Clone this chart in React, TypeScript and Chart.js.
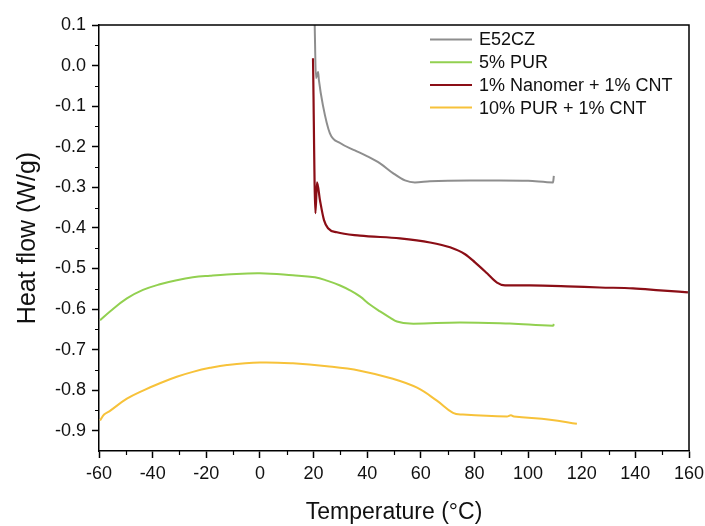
import React, { useEffect, useRef } from "react";
import { Chart, registerables } from "chart.js";

Chart.register(...registerables);

// ---- Data ----
const seriesLabels = ["E52CZ", "5% PUR", "1% Nanomer + 1% CNT", "10% PUR + 1% CNT"];

const e52czT = [20.4, 20.9, 21.7, 22.0, 23.5, 26.1, 29.9, 35.4, 39.9, 44.8, 49.6, 54.1, 57.8, 63.4, 78.3, 89.5, 100.0, 109.3, 109.6];
const e52czV = [0.11, -0.031, -0.016, -0.036, -0.098, -0.167, -0.191, -0.209, -0.223, -0.241, -0.265, -0.283, -0.288, -0.285, -0.283, -0.283, -0.284, -0.288, -0.272];

const pur5T = [-59.6, -55.9, -49.6, -43.6, -37.3, -31.0, -25.0, -18.6, -12.3, 0.0, 12.3, 20.5, 25.0, 29.9, 33.6, 37.3, 41.0, 44.8, 48.5, 51.1, 55.9, 74.6, 93.2, 109.3, 109.6];
const pur5V = [-0.628, -0.606, -0.574, -0.553, -0.539, -0.529, -0.522, -0.518, -0.515, -0.512, -0.517, -0.522, -0.530, -0.542, -0.554, -0.569, -0.589, -0.606, -0.621, -0.631, -0.636, -0.633, -0.636, -0.641, -0.637];

const nanoT = [19.8, 20.7, 21.3, 22.4, 23.9, 25.4, 28.7, 37.3, 52.2, 63.4, 70.9, 76.5, 80.2, 84.7, 88.4, 91.4, 100.7, 114.5, 126.8, 139.1, 149.2, 159.6];
const nanoV = [0.018, -0.364, -0.288, -0.332, -0.381, -0.401, -0.411, -0.419, -0.426, -0.436, -0.448, -0.465, -0.485, -0.512, -0.535, -0.542, -0.542, -0.544, -0.547, -0.549, -0.554, -0.559];

const pur10T = [-59.6, -58.1, -55.9, -49.6, -43.6, -37.3, -31.0, -25.0, -18.6, -12.3, 0.0, 12.3, 25.0, 37.3, 49.6, 58.6, 66.0, 72.0, 75.7, 92.1, 93.6, 94.7, 108.2, 118.2];
const pur10V = [-0.875, -0.860, -0.851, -0.821, -0.801, -0.783, -0.767, -0.755, -0.745, -0.738, -0.732, -0.734, -0.741, -0.752, -0.772, -0.794, -0.826, -0.856, -0.860, -0.865, -0.862, -0.865, -0.873, -0.883];

const xTickValues = [-60, -40, -20, 0, 20, 40, 60, 80, 100, 120, 140, 160];
const yTickValues = [0.1, 0.0, -0.1, -0.2, -0.3, -0.4, -0.5, -0.6, -0.7, -0.8, -0.9];

// ---- Styles ----
const seriesColors = ["#8e8e8e", "#92d050", "#8b0e16", "#f7c23a"];
const seriesWidths = [2, 2, 2.2, 2];
const seriesSmooth = ["monotone", "bezier", "monotone", "bezier"];
const FONT = "'Liberation Sans', Arial, Helvetica, sans-serif";

function pts(t: number[], v: number[]) {
  return t.map((x, i) => ({ x, y: v[i] }));
}

const framePlugin = {
  id: "frameMinorLegend",
  afterDraw(chart: any) {
    const { ctx, chartArea } = chart;
    const xs = chart.scales.x;
    const ys = chart.scales.y;
    ctx.save();
    ctx.strokeStyle = "#000";
    ctx.lineWidth = 1.5;
    // top and right frame
    ctx.beginPath();
    ctx.moveTo(chartArea.left, chartArea.top);
    ctx.lineTo(chartArea.right, chartArea.top);
    ctx.lineTo(chartArea.right, chartArea.bottom);
    ctx.stroke();
    // minor ticks
    ctx.lineWidth = 1.2;
    ctx.beginPath();
    for (let i = 0; i < xTickValues.length - 1; i++) {
      const v = (xTickValues[i] + xTickValues[i + 1]) / 2;
      const px = Math.round(xs.getPixelForValue(v)) + 0.5;
      ctx.moveTo(px, chartArea.bottom);
      ctx.lineTo(px, chartArea.bottom + 4);
    }
    for (let i = 0; i < yTickValues.length; i++) {
      const v = yTickValues[i] - 0.05;
      if (v < ys.min) continue;
      const py = Math.round(ys.getPixelForValue(v)) + 0.5;
      ctx.moveTo(chartArea.left, py);
      ctx.lineTo(chartArea.left - 4, py);
    }
    ctx.stroke();
    // legend
    ctx.font = `18px ${FONT}`;
    ctx.textBaseline = "middle";
    ctx.textAlign = "left";
    chart.data.datasets.forEach((ds: any, i: number) => {
      const y = chartArea.top + 14.5 + i * 22.7;
      const x0 = chartArea.left + 331;
      ctx.strokeStyle = ds.borderColor;
      ctx.lineWidth = 2;
      ctx.beginPath();
      ctx.moveTo(x0, y);
      ctx.lineTo(x0 + 42, y);
      ctx.stroke();
      ctx.fillStyle = "#111";
      ctx.fillText(ds.label, x0 + 49, y + 1);
    });
    ctx.restore();
  },
};

export default function App() {
  const ref = useRef<HTMLCanvasElement | null>(null);

  useEffect(() => {
    if (!ref.current) return;
    const seriesT = [e52czT, pur5T, nanoT, pur10T];
    const seriesV = [e52czV, pur5V, nanoV, pur10V];
    const chart = new Chart(ref.current, {
      type: "line",
      data: {
        datasets: seriesLabels.map((label, i) => ({
          label,
          data: pts(seriesT[i], seriesV[i]),
          borderColor: seriesColors[i],
          backgroundColor: seriesColors[i],
          borderWidth: seriesWidths[i],
          pointRadius: 0,
          fill: false,
          cubicInterpolationMode: (seriesSmooth[i] === "monotone" ? "monotone" : "default") as any,
          tension: seriesSmooth[i] === "monotone" ? 0 : 0.4,
        })),
      },
      options: {
        animation: false,
        responsive: true,
        maintainAspectRatio: false,
        layout: { padding: { top: 25, right: 16, left: 0, bottom: 0 } },
        plugins: { legend: { display: false }, tooltip: { enabled: false } },
        scales: {
          x: {
            type: "linear",
            min: -60,
            max: 160,
            afterBuildTicks: (s: any) => {
              s.ticks = xTickValues.map((value) => ({ value }));
            },
            afterFit: (s: any) => {
              s.height = 75;
              s.paddingRight = 0;
              s.paddingLeft = 0;
            },
            ticks: {
              font: { family: FONT, size: 18 },
              color: "#111",
              padding: 5,
              maxRotation: 0,
              autoSkip: false,
              callback: (v: any) => String(v),
            },
            grid: { drawOnChartArea: false, tickLength: 7, tickColor: "#000", tickWidth: 1.5 },
            border: { color: "#000", width: 1.5 },
            title: {
              display: true,
              text: "Temperature (°C)",
              font: { family: FONT, size: 23 },
              color: "#111",
              padding: { top: 0, bottom: 0 },
            },
          },
          y: {
            type: "linear",
            min: -0.95,
            max: 0.1,
            afterBuildTicks: (s: any) => {
              s.ticks = yTickValues.map((value) => ({ value }));
            },
            afterFit: (s: any) => {
              s.width = 99;
              s.paddingTop = 0;
              s.paddingBottom = 0;
            },
            ticks: {
              font: { family: FONT, size: 18 },
              color: "#111",
              padding: 6,
              autoSkip: false,
              callback: (v: any) => Number(v).toFixed(1),
            },
            grid: { drawOnChartArea: false, tickLength: 7, tickColor: "#000", tickWidth: 1.5 },
            border: { color: "#000", width: 1.5 },
            title: {
              display: true,
              text: "Heat flow (W/g)",
              font: { family: FONT, size: 25 },
              color: "#111",
              padding: { top: 13, bottom: 0 },
            },
          },
        },
      },
      plugins: [framePlugin],
    });
    return () => chart.destroy();
  }, []);

  return (
    <div style={{ position: "fixed", left: 0, top: 0, width: 705, height: 526, background: "#fff" }}>
      <canvas ref={ref} />
    </div>
  );
}
